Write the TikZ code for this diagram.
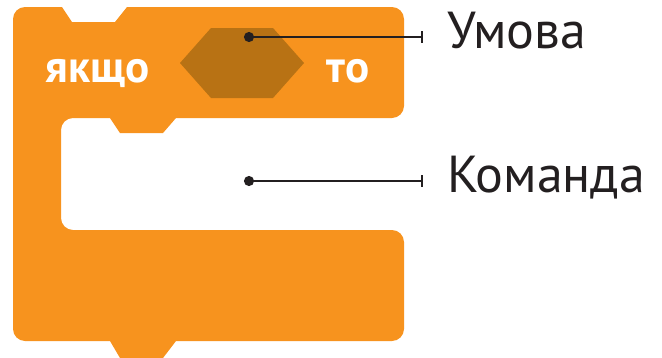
\documentclass[tikz,border=0pt]{standalone}
\usepackage{fontspec}
\setmainfont{PT Sans}
\usetikzlibrary{arrows.meta}
\definecolor{blockorange}{RGB}{247,147,30}
\definecolor{slotbrown}{RGB}{184,114,20}
\definecolor{leaderink}{RGB}{35,31,32}
\tikzset{
  blockbody/.style={fill=blockorange, draw=none},
  slot/.style={fill=slotbrown, draw=none},
  keyword/.style={text=white, font=\fontsize{45}{54}\selectfont\bfseries, inner sep=0pt, anchor=base},
  callout/.style={text=leaderink, font=\fontsize{52}{62}\selectfont, inner sep=0pt, anchor=base west},
  leader/.style={draw=leaderink, line width=2.3pt, {Circle[length=10pt]}-{Bar[width=12pt,line width=2.3pt]}}
}
\begin{document}
\begin{tikzpicture}[x=1pt,y=-1pt]
  \useasboundingbox (0,0) rectangle (662,357);
  % C-shaped "if" block: rounded outer corners, sharp notch and tabs
  \path[blockbody]
    (13,170) -- (13,19) .. controls (13,12.4) and (18.4,7) .. (25,7)
    -- (62,7) -- (72,22) -- (115,22) -- (127,7)
    -- (392,7) .. controls (398.6,7) and (404,12.4) .. (404,19)
    -- (404,106) .. controls (404,112.6) and (398.6,118) .. (392,118)
    -- (176,118) -- (163,133) -- (120,133) -- (110,118)
    -- (73,118) .. controls (66.4,118) and (61,123.4) .. (61,130)
    -- (61,218) .. controls (61,224.6) and (66.4,230) .. (73,230)
    -- (392,230) .. controls (398.6,230) and (404,235.4) .. (404,242)
    -- (404,329) .. controls (404,335.6) and (398.6,341) .. (392,341)
    -- (176,341) -- (163,358) -- (120,358) -- (110,341)
    -- (25,341) .. controls (18.4,341) and (13,335.6) .. (13,329)
    -- cycle;
  % hexagonal condition slot
  \path[slot] (180,63) -- (211,28) -- (273,28) -- (304,63) -- (273,98) -- (211,98) -- cycle;
  \node[keyword] (ifword) at (98,82) {якщо};
  \node[keyword] (thenword) at (348,82) {то};
  % callouts
  \node[callout] (cond) at (447,48) {Умова};
  \node[callout] (cmd) at (447,192) {Команда};
  \coordinate (conddot) at (244,37);
  \coordinate (condend) at (423,37);
  \coordinate (cmddot) at (244,181);
  \coordinate (cmdend) at (423,181);
  \draw[leader] (conddot) -- (condend);
  \draw[leader] (cmddot) -- (cmdend);
\end{tikzpicture}
\end{document}
